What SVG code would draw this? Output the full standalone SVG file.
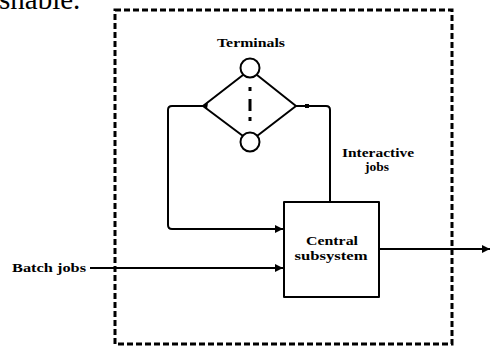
<svg xmlns="http://www.w3.org/2000/svg" width="491" height="347" viewBox="0 0 491 347">
<style>
.ln{fill:none;stroke:#000;stroke-width:2;stroke-linejoin:round}
.bd{fill:none;stroke:#000;stroke-width:3;stroke-dasharray:6 3}
.t{font-family:"Liberation Serif",serif;font-weight:bold;font-size:12px;fill:#000;text-anchor:middle}
</style>
<defs>
<marker id="ah" viewBox="0 0 8 8" refX="8" refY="4" markerWidth="4" markerHeight="4" orient="auto" markerUnits="strokeWidth">
<path d="M0,0 L8,4 L0,8 z" fill="#000"/>
</marker>
</defs>
<rect width="491" height="347" fill="#fff"/>
<text x="-1" y="9" style="font-family:'Liberation Serif',serif;font-size:29px;fill:#000">snable.</text>
<rect id="boundary" class="bd" x="115" y="10" width="337" height="334"/>
<g id="connectors">
<path class="ln" d="M243,75 L203,106 L243,136"/>
<path class="ln" d="M257,75 L296,106 L257,136"/>
<path class="ln" d="M203,106 L172,106 Q168,106 168,110 L168,225 Q168,229 172,229 L283,229" marker-end="url(#ah)"/>
<path class="ln" d="M296,106 L326,106 Q330,106 330,110 L330,202"/>
<path class="ln" d="M90,268 L283,268" marker-end="url(#ah)"/>
<path class="ln" d="M379,249 L490,249" marker-end="url(#ah)"/>
<rect x="305" y="104" width="4" height="4" fill="#000"/>
<path d="M203,106 L208,103 L207,109 z" fill="#000"/>
</g>
<g id="terminals">
<text class="t" x="251" y="47" textLength="68" lengthAdjust="spacingAndGlyphs">Terminals</text>
<circle class="ln" cx="250" cy="68" r="9.5"/>
<circle class="ln" cx="250" cy="142" r="9.5"/>
<rect x="248.5" y="87" width="3" height="4" fill="#000"/>
<rect x="248.5" y="99" width="3" height="12" fill="#000"/>
<rect x="248.5" y="117" width="3" height="4" fill="#000"/>
</g>
<g id="interactive-label">
<text class="t" x="378" y="157" textLength="72" lengthAdjust="spacingAndGlyphs">Interactive</text>
<text class="t" x="377" y="171" textLength="24" lengthAdjust="spacingAndGlyphs">jobs</text>
</g>
<g id="central">
<rect class="ln" x="284" y="202" width="95" height="95"/>
<text class="t" x="332" y="245" textLength="52" lengthAdjust="spacingAndGlyphs">Central</text>
<text class="t" x="331" y="260" textLength="73" lengthAdjust="spacingAndGlyphs">subsystem</text>
</g>
<g id="batch">
<text class="t" x="49" y="272" textLength="74" lengthAdjust="spacingAndGlyphs">Batch jobs</text>
</g>
</svg>
